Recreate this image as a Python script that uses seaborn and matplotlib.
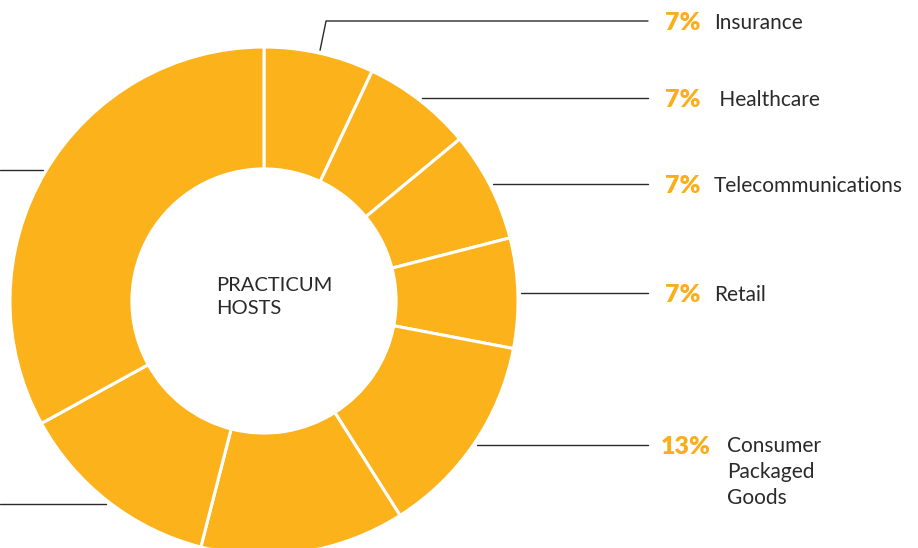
import numpy as np
import matplotlib
matplotlib.use('Agg')
import matplotlib.pyplot as plt
import seaborn as sns

sns.set_theme(style='white')
plt.rcParams['font.family'] = ['Lato', 'DejaVu Sans']

# data: practicum hosts by industry, clockwise from 12 o'clock
sectors = ['Insurance', ' Healthcare', 'Telecommunications', 'Retail',
           'Consumer\nPackaged\nGoods', None, None, None]
shares = [7, 7, 7, 7, 13, 13, 13, 33]
pct_labels = ['7%', '7%', '7%', '7%', '13%', '', '', '']

W, H = 918, 548
GOLD = '#FBB21B'
PCT_COL = '#FAAE19'
INK = '#2B2A2B'

fig = plt.figure(figsize=(W / 100, H / 100), dpi=100)
ax = fig.add_axes([0, 0, 1, 1])

cx, cy, R = 264, H - 301, 254
wedges, _ = ax.pie(shares, colors=[GOLD] * len(shares), startangle=90,
                   counterclock=False, center=(cx, cy), radius=R,
                   wedgeprops=dict(width=R * 0.48, edgecolor='white', linewidth=2.2))
ax.set_xlim(0, W)
ax.set_ylim(0, H)
ax.set_aspect('equal')
ax.axis('off')

# leader lines start at each wedge's mid angle, run out horizontally
line_end_right = 648
for i, w in enumerate(wedges):
    mid = np.deg2rad((w.theta1 + w.theta2) / 2)
    x0 = cx + (R + 3) * np.cos(mid)
    y0 = cy + (R + 3) * np.sin(mid)
    if y0 < 0:
        continue
    if x0 < cx:
        ax.plot([0, x0], [y0, y0], color=INK, lw=1.0)
        continue
    if i == 0:
        # insurance line kinks up above the ring
        ky = H - 21
        ax.plot([x0, x0 + 6, line_end_right], [y0, ky, ky], color=INK, lw=1.0)
        y0 = ky
    else:
        ax.plot([x0, line_end_right], [y0, y0], color=INK, lw=1.0)
    short = len(pct_labels[i]) == 2
    ax.text(665 if short else 661, y0, pct_labels[i], color=PCT_COL, fontsize=18,
            fontweight='heavy', va='center_baseline', ha='left')
    if '\n' in sectors[i]:
        ax.text(727, y0 + 9, sectors[i], color=INK, fontsize=15,
                va='top', ha='left', linespacing=1.35)
    else:
        ax.text(714, y0, sectors[i], color=INK, fontsize=15,
                va='center_baseline', ha='left')

ax.text(216, H - 297, 'PRACTICUM\nHOSTS', color=INK, fontsize=14.5,
        ha='left', va='center', linespacing=1.38)

fig.savefig('out.png', dpi=100)
